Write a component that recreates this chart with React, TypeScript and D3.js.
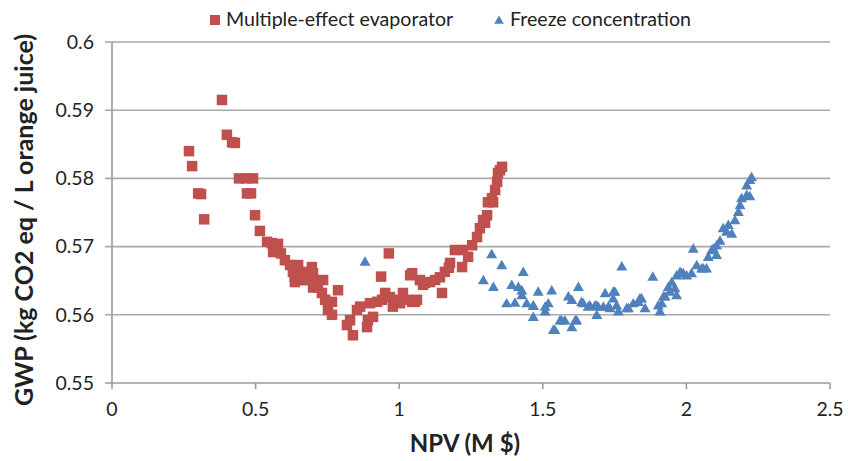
import React from 'react';
import * as d3 from 'd3';

// Multiple-effect evaporator: [NPV (M $), GWP]
const evaporatorNPV = [
  0.268, 0.279, 0.300, 0.310, 0.321, 0.383, 0.400, 0.418, 0.428, 0.442,
  0.467, 0.491, 0.470, 0.484, 0.498, 0.515, 0.540, 0.557, 0.578, 0.561,
  0.588, 0.602, 0.620, 0.648, 0.696, 0.630, 0.665, 0.682, 0.700, 0.637,
  0.672, 0.707, 0.735, 0.700, 0.717, 0.731, 0.742, 0.766, 0.787, 0.752,
  0.766, 0.818, 0.829, 0.839, 0.853, 0.864, 0.888, 0.891, 0.909, 0.898,
  0.923, 0.940, 0.964, 0.937, 0.951, 0.968, 0.985, 0.978, 1.003, 1.013,
  1.027, 1.045, 1.062, 1.045, 1.072, 1.090, 1.107, 1.125, 1.149, 1.142,
  1.159, 1.177, 1.194, 1.222, 1.219, 1.240, 1.254, 1.271, 1.281, 1.292,
  1.306, 1.309, 1.323, 1.334, 1.341, 1.344, 1.358, 1.351, 1.299, 1.327,
  1.173, 1.083, 1.038, 1.055, 0.636, 0.660, 0.678,
];
const evaporatorGWP = [
  0.5840, 0.5818, 0.5778, 0.5777, 0.5740, 0.5915, 0.5864, 0.5853, 0.5852, 0.5800,
  0.5800, 0.5800, 0.5778, 0.5778, 0.5746, 0.5723, 0.5707, 0.5705, 0.5704, 0.5692,
  0.5690, 0.5680, 0.5673, 0.5673, 0.5670, 0.5663, 0.5663, 0.5655, 0.5661, 0.5648,
  0.5651, 0.5647, 0.5651, 0.5640, 0.5640, 0.5632, 0.5622, 0.5619, 0.5636, 0.5607,
  0.5600, 0.5585, 0.5592, 0.5570, 0.5607, 0.5612, 0.5582, 0.5592, 0.5597, 0.5617,
  0.5619, 0.5622, 0.5690, 0.5656, 0.5632, 0.5626, 0.5622, 0.5612, 0.5617, 0.5632,
  0.5622, 0.5619, 0.5622, 0.5661, 0.5651, 0.5647, 0.5648, 0.5651, 0.5632, 0.5655,
  0.5663, 0.5676, 0.5695, 0.5695, 0.5670, 0.5685, 0.5702, 0.5714, 0.5727, 0.5739,
  0.5746, 0.5765, 0.5771, 0.5783, 0.5795, 0.5808, 0.5817, 0.5812, 0.5735, 0.5765,
  0.5669, 0.5644, 0.5658, 0.5619, 0.5656, 0.5652, 0.5651,
];

// Freeze concentration: [NPV (M $), GWP]
const freezeNPV = [
  0.881, 1.322, 1.357, 1.293, 1.328, 1.432, 1.392, 1.415, 1.374, 1.403,
  1.427, 1.444, 1.467, 1.467, 1.484, 1.508, 1.519, 1.531, 1.508, 1.542,
  1.560, 1.577, 1.601, 1.618, 1.589, 1.601, 1.624, 1.641, 1.664, 1.688,
  1.688, 1.717, 1.746, 1.711, 1.734, 1.757, 1.775, 1.763, 1.798, 1.815,
  1.838, 1.856, 1.883, 1.902, 1.908, 1.920, 1.937, 1.949, 1.966, 1.984,
  2.001, 1.943, 1.960, 2.024, 2.018, 2.036, 2.059, 2.070, 2.076, 2.094,
  2.105, 2.117, 2.128, 2.140, 2.158, 2.146, 2.169, 2.181, 2.187, 2.192,
  2.210, 2.221, 2.210, 2.221, 2.227, 1.427, 1.467, 1.537, 1.566, 1.613,
  1.635, 1.658, 1.682, 1.693, 1.728, 1.751, 1.745, 1.792, 1.833, 1.844,
  1.914, 1.926, 1.978, 1.989, 1.966, 2.053, 2.088, 2.105,
];
const freezeGWP = [
  0.5678, 0.5689, 0.5673, 0.5651, 0.5641, 0.5663, 0.5644, 0.5641, 0.5617, 0.5618,
  0.5629, 0.5617, 0.5613, 0.5597, 0.5634, 0.5612, 0.5617, 0.5636, 0.5605, 0.5578,
  0.5592, 0.5592, 0.5582, 0.5592, 0.5627, 0.5622, 0.5641, 0.5617, 0.5614, 0.5613,
  0.5600, 0.5632, 0.5634, 0.5612, 0.5610, 0.5614, 0.5671, 0.5605, 0.5610, 0.5617,
  0.5624, 0.5610, 0.5656, 0.5614, 0.5605, 0.5627, 0.5641, 0.5648, 0.5658, 0.5661,
  0.5658, 0.5634, 0.5639, 0.5697, 0.5661, 0.5673, 0.5668, 0.5668, 0.5685, 0.5697,
  0.5688, 0.5709, 0.5727, 0.5722, 0.5719, 0.5732, 0.5739, 0.5751, 0.5761, 0.5771,
  0.5776, 0.5774, 0.5790, 0.5798, 0.5802, 0.5636, 0.5614, 0.5578, 0.5592, 0.5592,
  0.5619, 0.5612, 0.5614, 0.5612, 0.5612, 0.5634, 0.5624, 0.5610, 0.5619, 0.5624,
  0.5617, 0.5627, 0.5663, 0.5661, 0.5629, 0.5668, 0.5695, 0.5702,
];

const xTicks = [0, 0.5, 1, 1.5, 2, 2.5];
const yTicks = [0.55, 0.56, 0.57, 0.58, 0.59, 0.6];
const seriesNames = ['Multiple-effect evaporator', 'Freeze concentration'];

const RED = '#C0504D';
const BLUE = '#4F81BD';
const FONT = 'Lato, "Open Sans", sans-serif';

export default function App() {
  const width = 848;
  const height = 461;
  const margin = { top: 42, right: 18, bottom: 78, left: 112 };

  const x = d3.scaleLinear().domain([0, 2.5]).range([margin.left, width - margin.right]);
  const y = d3.scaleLinear().domain([0.55, 0.6]).range([height - margin.bottom, margin.top]);

  const sq = 10.5;
  const tri = d3.symbol().type(d3.symbolTriangle).size(52)();

  return (
    <svg
      width={width}
      height={height}
      style={{ position: 'absolute', left: 0, top: 0, background: '#fff' }}
      fontFamily={FONT}
    >
      {/* horizontal grid lines */}
      {yTicks.map(t => (
        <g key={t}>
          <line
            x1={x(0) - 7}
            x2={x(2.5)}
            y1={y(t)}
            y2={y(t)}
            stroke={t === 0.55 ? '#9a9a9a' : '#a9a9a9'}
            strokeWidth={1.6}
          />
          <text x={x(0) - 18} y={y(t)} dy="0.35em" textAnchor="end" fontSize={19.5} fill="#222">
            {d3.format('')(t)}
          </text>
        </g>
      ))}

      {/* y axis */}
      <line x1={x(0)} x2={x(0)} y1={y(0.6)} y2={y(0.55)} stroke="#9a9a9a" strokeWidth={1.6} />

      {/* x ticks */}
      {xTicks.map(t => (
        <g key={t}>
          <line x1={x(t)} x2={x(t)} y1={y(0.55)} y2={y(0.55) + 6} stroke="#9a9a9a" strokeWidth={1.6} />
          <text x={x(t)} y={y(0.55) + 33} textAnchor="middle" fontSize={19.5} fill="#222">
            {t}
          </text>
        </g>
      ))}

      {/* series */}
      <g fill={RED}>
        {evaporatorNPV.map((v, i) => (
          <rect key={i} x={x(v) - sq / 2} y={y(evaporatorGWP[i]) - sq / 2} width={sq} height={sq} />
        ))}
      </g>
      <g fill={BLUE}>
        {freezeNPV.map((v, i) => (
          <path key={i} d={tri || ''} transform={`translate(${x(v)},${y(freezeGWP[i]) + 1})`} />
        ))}
      </g>

      {/* legend */}
      <g transform="translate(0,19)">
        <rect x={210} y={-4} width={10} height={10} fill={RED} />
        <text x={226} y={0} dy="0.35em" fontSize={19.6} fill="#222">{seriesNames[0]}</text>
        <path d={d3.symbol().type(d3.symbolTriangle).size(40)() || ''} transform="translate(499,2)" fill={BLUE} />
        <text x={510} y={0} dy="0.35em" fontSize={19.6} fill="#222">{seriesNames[1]}</text>
      </g>

      {/* axis titles */}
      <text x={465} y={452} textAnchor="middle" fontSize={24} fontWeight="bold" fill="#222">
        NPV (M $)
      </text>
      <text
        transform={`translate(33,220) rotate(-90)`}
        textAnchor="middle"
        fontSize={25}
        fontWeight="bold"
        fill="#222"
      >
        GWP (kg CO2 eq / L orange juice)
      </text>
    </svg>
  );
}
